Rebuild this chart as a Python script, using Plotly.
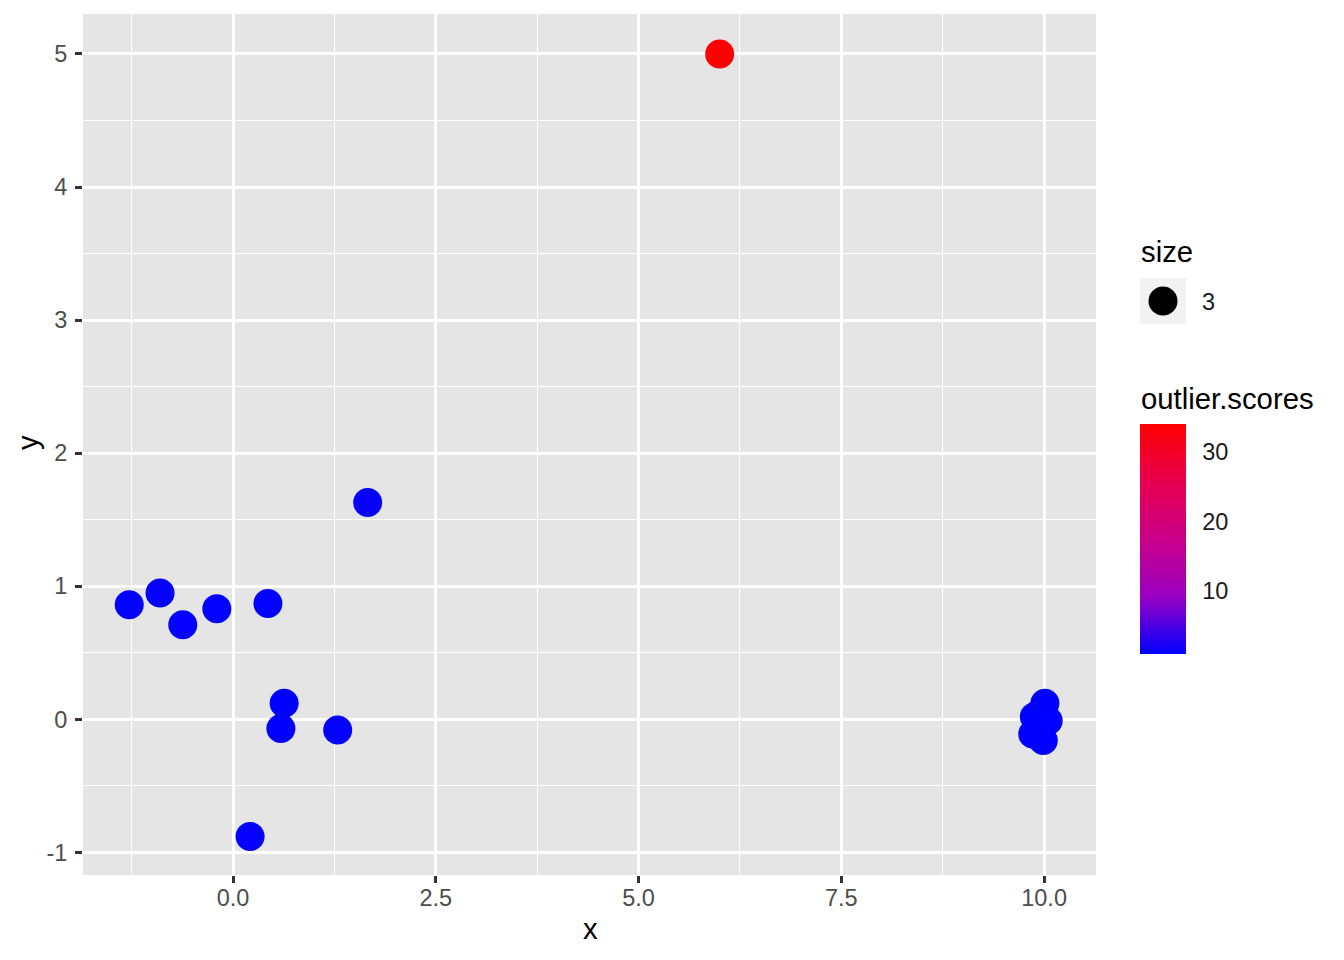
import plotly.graph_objects as go

# Data
x_vals = [-1.28, -0.90, -0.62, -0.20, 0.43, 1.66, 0.63, 0.59, 1.29, 0.21,
          6.00,
          10.01, 9.88, 10.05, 9.86, 9.99, 9.95]
y_vals = [0.86, 0.95, 0.71, 0.83, 0.87, 1.63, 0.12, -0.07, -0.08, -0.88,
          5.00,
          0.12, 0.02, -0.01, -0.11, -0.16, 0.05]
outlier_scores = [1.05, 1.10, 1.08, 1.02, 1.06, 1.30, 1.00, 0.98, 1.12, 1.25,
                  34.0,
                  0.95, 0.93, 0.97, 1.00, 0.99, 0.94]

x_ticks = [0.0, 2.5, 5.0, 7.5, 10.0]
x_tick_labels = ["0.0", "2.5", "5.0", "7.5", "10.0"]
x_minor = [-1.25, 1.25, 3.75, 6.25, 8.75]
y_ticks = [-1, 0, 1, 2, 3, 4, 5]
y_tick_labels = ["-1", "0", "1", "2", "3", "4", "5"]
y_minor = [-0.5, 0.5, 1.5, 2.5, 3.5, 4.5]
cbar_ticks = [10, 20, 30]
size_label = "3"

# page has an 8px body margin; figure sized to fit the window
OFF = 8
W, H = 1344 - OFF, 960 - OFF
# plot panel in screen pixels
L, R, T, B = 83, 1096, 14, 875
CMIN, CMAX = 0.93, 34.0
CB_TOP, CB_BOT, CB_L, CB_R = 424, 654, 1140, 1186


def px_x(p):
    return (p - L) / (R - L)


def px_y(p):
    return (B - p) / (B - T)


colorscale = [[0.0, "#0000FF"], [0.25, "#9A00C3"], [0.5, "#C90088"],
              [0.75, "#E80050"], [1.0, "#FF0000"]]

font_family = "Liberation Sans, Arial, sans-serif"
TICK_FS = 23.5
TITLE_FS = 29.3

fig = go.Figure()
fig.add_trace(go.Scatter(
    x=x_vals, y=y_vals, mode="markers", showlegend=False,
    marker=dict(
        size=29, color=outlier_scores, colorscale=colorscale,
        cmin=CMIN, cmax=CMAX, line=dict(width=0), opacity=1,
        colorbar=dict(
            x=px_x(CB_L), xanchor="left", xref="paper",
            y=px_y((CB_TOP + CB_BOT) / 2), yanchor="middle",
            len=CB_BOT - CB_TOP, lenmode="pixels",
            thickness=CB_R - CB_L, thicknessmode="pixels",
            outlinewidth=0, tickvals=cbar_ticks,
            ticks="outside", ticklen=12, tickcolor="rgba(0,0,0,0)",
            tickfont=dict(size=TICK_FS, color="#1A1A1A", family=font_family),
            ypad=0, xpad=0,
        ),
    ),
))

fig.update_layout(
    width=W, height=H,
    margin=dict(l=L - OFF, r=W - (R - OFF), t=T - OFF, b=H - (B - OFF)),
    paper_bgcolor="white", plot_bgcolor="#E5E5E5",
    font=dict(family=font_family),
    xaxis=dict(
        range=[-1.85, 10.64], tickvals=x_ticks, ticktext=x_tick_labels,
        showgrid=True, gridcolor="white", gridwidth=2.6, zeroline=False,
        ticks="outside", ticklen=7, tickwidth=2.5, tickcolor="#333333",
        tickfont=dict(size=TICK_FS, color="#4D4D4D"), ticklabelstandoff=-5,
        minor=dict(tickvals=x_minor, showgrid=True,
                   gridcolor="white", gridwidth=1.3, ticks=""),
        showline=False,
    ),
    yaxis=dict(
        range=[-1.17, 5.30], tickvals=y_ticks, ticktext=y_tick_labels,
        showgrid=True, gridcolor="white", gridwidth=2.6, zeroline=False,
        ticks="outside", ticklen=7, tickwidth=2.5, tickcolor="#333333",
        tickfont=dict(size=TICK_FS, color="#4D4D4D"), ticklabelstandoff=3,
        minor=dict(tickvals=y_minor, showgrid=True,
                   gridcolor="white", gridwidth=1.3, ticks=""),
        showline=False,
    ),
)

# axis titles
fig.add_annotation(xref="paper", yref="paper", x=px_x(590), y=px_y(928),
                   xanchor="center", yanchor="middle", text="x",
                   showarrow=False, font=dict(size=TITLE_FS, color="black"))
fig.add_annotation(xref="paper", yref="paper", x=px_x(27), y=px_y(443),
                   xanchor="center", yanchor="middle", text="y", textangle=-90,
                   showarrow=False, font=dict(size=TITLE_FS, color="black"))

# size legend (manual key)
fig.add_shape(type="rect", xref="paper", yref="paper",
              x0=px_x(1140), x1=px_x(1186), y0=px_y(324), y1=px_y(278),
              fillcolor="#F2F2F2", line=dict(width=0), layer="below")
fig.add_shape(type="circle", xref="paper", yref="paper",
              x0=px_x(1148.5), x1=px_x(1177.5), y0=px_y(315.5), y1=px_y(286.5),
              fillcolor="black", line=dict(width=0))
fig.add_annotation(xref="paper", yref="paper", x=px_x(1139), y=px_y(252),
                   xanchor="left", yanchor="middle", text="size",
                   showarrow=False, font=dict(size=TITLE_FS, color="black"))
fig.add_annotation(xref="paper", yref="paper", x=px_x(1200), y=px_y(302),
                   xanchor="left", yanchor="middle", text=size_label,
                   showarrow=False, font=dict(size=TICK_FS, color="#1A1A1A"))
fig.add_annotation(xref="paper", yref="paper", x=px_x(1139), y=px_y(398),
                   xanchor="left", yanchor="middle", text="outlier.scores",
                   showarrow=False, font=dict(size=TITLE_FS, color="black"))

fig.write_html("out.html")
